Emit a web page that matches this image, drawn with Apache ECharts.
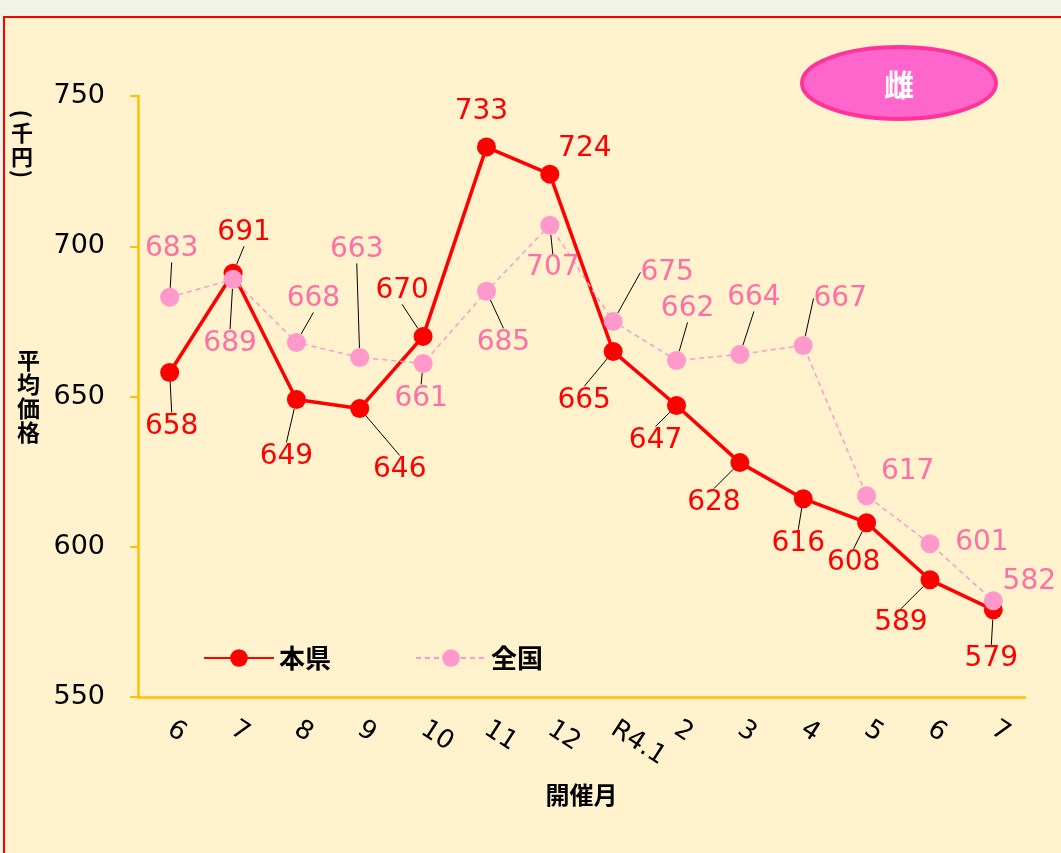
<!DOCTYPE html>
<html>
<head>
<meta charset="utf-8">
<script src="https://cdn.jsdelivr.net/npm/echarts@6/dist/echarts.min.js"></script>
<style>
  html, body { margin: 0; padding: 0; background: #F0F3E6; overflow: hidden; }
  #frame { position: absolute; left: 3px; top: 16px; width: 1080px; height: 860px;
           border: 2px solid #FF0000; background: #FFF2CC; }
  #chart { position: absolute; left: 0; top: 0; width: 1061px; height: 853px; }
</style>
</head>
<body>
<div id="frame"></div>
<div id="chart"></div>
<script>
// 開催月
var months = ['6', '7', '8', '9', '10', '11', '12', 'R4.1', '2', '3', '4', '5', '6', '7'];
// 平均価格 (千円)
var kenValues = [658, 691, 649, 646, 670, 733, 724, 665, 647, 628, 616, 608, 589, 579];
var zenkokuValues = [683, 689, 668, 663, 661, 685, 707, 675, 662, 664, 667, 617, 601, 582];
var yTicks = [550, 600, 650, 700, 750];

// ラベルのずらし量 [dx, dy]
var kenLabelShift = [[2, 54], [11, -41], [-10, 57], [40, 61], [-21, -46], [-5, -35], [35, -25],
  [-29, 49], [-21, 35], [-26, 40], [-5, 45], [-13, 40], [-29, 43], [-2, 49]];
var zenkokuLabelShift = [[2, -49], [-3, 64], [17, -44], [-3, -108], [-2, 35], [17, 51], [3, 43],
  [54, -49], [11, -52], [14, -57], [37, -47], [41, -24], [52, -1], [36, -19]];
// 引き出し線なしの点
var kenNoLine = [5, 6];
var zenkokuNoLine = [11, 12, 13];

var FONT = '"DejaVu Sans", "Noto Sans CJK JP", sans-serif';
var CJK = '"Noto Sans CJK JP", sans-serif';

function withLines(values, noLine) {
  return values.map(function (v, i) {
    return { value: v, labelLine: { show: noLine.indexOf(i) < 0 } };
  });
}

var chart = echarts.init(document.getElementById('chart'), null, { renderer: 'canvas' });

var option = {
  backgroundColor: 'transparent',
  animation: false,
  grid: { left: 138, right: 36, top: 96, bottom: 156 },
  legend: {
    left: 198,
    top: 640,
    itemWidth: 70,
    itemHeight: 22,
    itemGap: 84,
    textStyle: { fontFamily: CJK, fontSize: 26, fontWeight: 'bold', color: '#000' },
    data: ['本県', '全国']
  },
  xAxis: {
    type: 'category',
    data: months,
    boundaryGap: true,
    name: '開催月',
    nameLocation: 'middle',
    nameGap: 86,
    nameTextStyle: { fontFamily: CJK, fontSize: 24, fontWeight: 'bold', color: '#000' },
    axisLine: { lineStyle: { color: '#FFC000', width: 2.5 } },
    axisTick: { alignWithLabel: true, length: 5, lineStyle: { color: '#FFC000', width: 2 } },
    axisLabel: { rotate: -33, margin: 30, fontFamily: FONT, fontSize: 26, color: '#000' }
  },
  yAxis: {
    type: 'value',
    min: yTicks[0],
    max: yTicks[yTicks.length - 1],
    interval: 50,
    name: '平\n均\n価\n格',
    nameLocation: 'middle',
    nameRotate: 0,
    nameGap: 98,
    nameTextStyle: { fontFamily: CJK, fontSize: 23, fontWeight: 'bold', color: '#000', lineHeight: 24 },
    splitLine: { show: false },
    axisLine: { show: true, lineStyle: { color: '#FFC000', width: 2.5 } },
    axisTick: { show: true, length: 8, lineStyle: { color: '#FFC000', width: 2 } },
    axisLabel: { margin: 33, fontFamily: FONT, fontSize: 27, color: '#000' }
  },
  series: [
    {
      name: '本県',
      type: 'line',
      data: withLines(kenValues, kenNoLine),
      symbol: 'circle',
      symbolSize: 19,
      itemStyle: { color: '#FF0000' },
      lineStyle: { color: '#FF0000', width: 3.5 },
      label: {
        show: true, position: 'inside', color: '#FF0000',
        fontFamily: FONT, fontSize: 28
      },
      labelLine: { show: true, lineStyle: { color: '#000', width: 1 } },
      labelLayout: function (p) {
        return { dx: kenLabelShift[p.dataIndex][0], dy: kenLabelShift[p.dataIndex][1] };
      },
      z: 2
    },
    {
      name: '全国',
      type: 'line',
      data: withLines(zenkokuValues, zenkokuNoLine),
      symbol: 'circle',
      symbolSize: 19,
      itemStyle: { color: '#FF99CC' },
      lineStyle: { color: '#FF99CC', width: 1.5, type: [5, 4] },
      label: {
        show: true, position: 'inside', color: '#FF6FA5',
        fontFamily: FONT, fontSize: 28
      },
      labelLine: { show: true, lineStyle: { color: '#000', width: 1 } },
      labelLayout: function (p) {
        return { dx: zenkokuLabelShift[p.dataIndex][0], dy: zenkokuLabelShift[p.dataIndex][1] };
      },
      z: 3
    }
  ],
  graphic: [
    {
      type: 'ellipse',
      shape: { cx: 899, cy: 83, rx: 97, ry: 36 },
      style: { fill: '#FF66CC', stroke: '#FF3399', lineWidth: 4 }
    },
    {
      type: 'text', x: 899, y: 85,
      style: { text: '雌', fill: '#fff', font: 'bold 30px ' + CJK, align: 'center', verticalAlign: 'middle' }
    },
    {
      type: 'text', x: 22, y: 114, rotation: -Math.PI / 2,
      style: { text: '(', fill: '#000', font: 'bold 22px ' + CJK, align: 'center', verticalAlign: 'middle' }
    },
    {
      type: 'text', x: 22, y: 133,
      style: { text: '千', fill: '#000', font: 'bold 22px ' + CJK, align: 'center', verticalAlign: 'middle' }
    },
    {
      type: 'text', x: 22, y: 157,
      style: { text: '円', fill: '#000', font: 'bold 22px ' + CJK, align: 'center', verticalAlign: 'middle' }
    },
    {
      type: 'text', x: 22, y: 174, rotation: -Math.PI / 2,
      style: { text: ')', fill: '#000', font: 'bold 22px ' + CJK, align: 'center', verticalAlign: 'middle' }
    }
  ]
};

chart.setOption(option);
</script>
</body>
</html>
